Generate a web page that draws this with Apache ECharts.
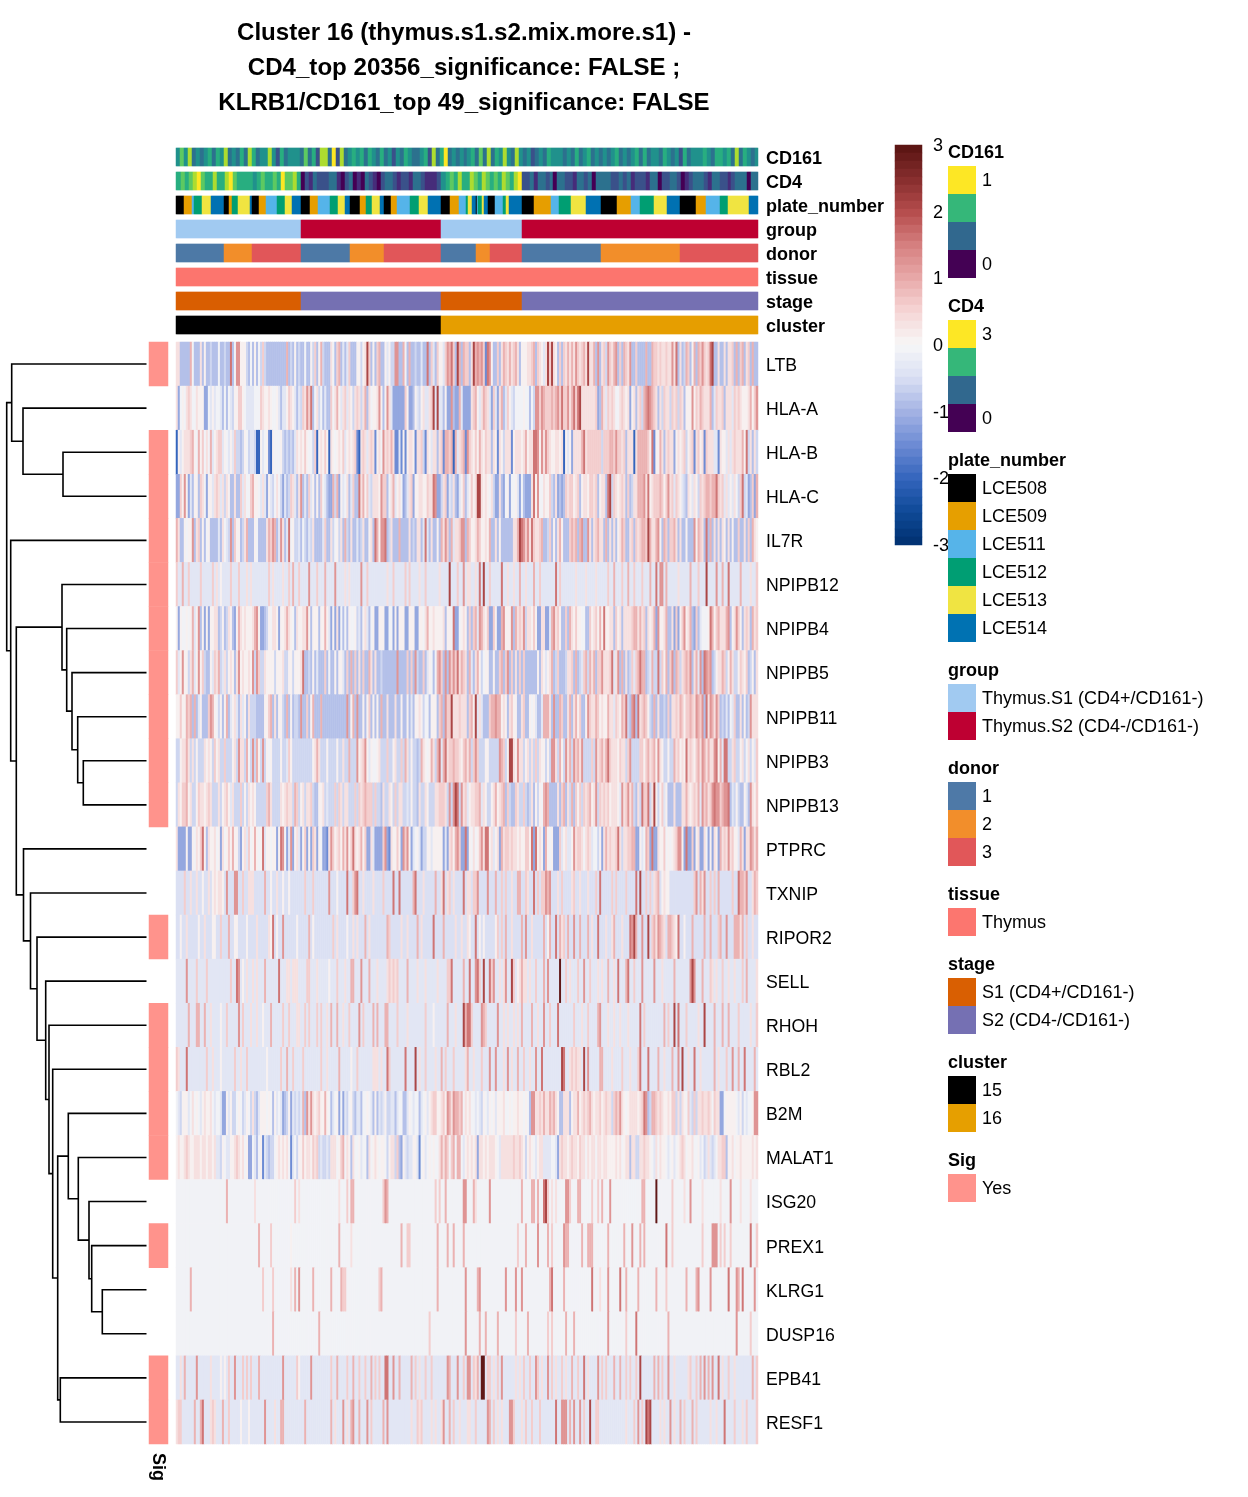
<!DOCTYPE html>
<html><head><meta charset="utf-8">
<style>html,body{margin:0;padding:0;background:#fff}#c{width:1248px;height:1497px}</style>
<script src="https://cdn.jsdelivr.net/npm/echarts@6/dist/echarts.min.js"></script>
</head><body><div id="c"></div>
<script>
// ---------- labels ----------
const titleLines = ['Cluster 16 (thymus.s1.s2.mix.more.s1) -','CD4_top 20356_significance: FALSE ;','KLRB1/CD161_top 49_significance: FALSE'];
const genes = ['LTB','HLA-A','HLA-B','HLA-C','IL7R','NPIPB12','NPIPB4','NPIPB5','NPIPB11','NPIPB3','NPIPB13','PTPRC','TXNIP','RIPOR2','SELL','RHOH','RBL2','B2M','MALAT1','ISG20','PREX1','KLRG1','DUSP16','EPB41','RESF1'];
const sigYes = ['LTB','HLA-B','HLA-C','IL7R','NPIPB12','NPIPB4','NPIPB5','NPIPB11','NPIPB3','NPIPB13','RIPOR2','RHOH','RBL2','B2M','MALAT1','PREX1','EPB41','RESF1'];
const colorbarTicks = [3,2,1,0,-1,-2,-3];

// ---------- expression, one character per column, level table below ----------
const levelChars  = '0123456789abcdef';
const levelValues = [-2.0,-1.5,-1.15,-0.85,-0.6,-0.35,-0.1,0.1,0.35,0.6,0.9,1.25,1.6,2.1,2.9,-0.47];
const rowLTB='8833333a63 3383733433 3633433c36 bb77743637 3649433333 33333a3437 3433633749 37a4333863 9a353593 33 7747 8d9373 9a33757 44b b33a63a334 3353 3c3953 97759bac93 da3a9 938dabab9 1 cb733938a9 8a89a83777 889a398758 d9d8739398 a8a8b989a8 d88a3b3894 b98ab393a9 8b3393333a 33a9989889 88b8c3834a 937a3a9b98 9cd3383383 8893a39a38 93a33';
const rowHLAA='8267689866 8777226575 6653636547 7997655556 6698778766 7535579875 3549 8b9c36 8463533968 a758958748 984 8a38677 8b737b8522 22229722 37 5478558 9d5 d553722b32 2a522 228 9a758a9 8529528a35 9754666676 6364bb9ba9 99a9ab9c99 b8ac9cd888 8888923a85 9898668987 8278389 4ab cba983849 8 84989 4 9837 77b798a988 8a35988938 8859898777 8a79b';
const rowHLAB='0757888 9a7 6a79686a57 8995765 7594 4347 64554 0 0756710766 6743434358 7879766490 7879708767 8795787 891 0898589817 86b898a811 5171788718 8941875883 8 91aa9a0a5 89a1b 98797a8798 8387187488 8178887 8a7 88ccb7b8b98 7788780757 2888 8ac899 9999949 99a a9b998938 8 808aaaaa97 c177a83898 8278789478 9189781988 8551877585 8988 8a7c48 3845a';
const rowHLAC='2297b72537 7398627758 9858487338 3395866 9a7 7658527546 8642534985 38b3539573 7396532 2a4 a275683593 3c8a795488 87b9936 8a5 7862358927 7887798 8cb 2248925483 2579 3 57978dd878 7684228326 7266752632 228c7b6687 7943823239 8997893788 7998937883 cd49878983 93488aaab8 c 78999a979b 8959875438 7587498 9aa 9aac9 8958 5758649c45 2392a';
const rowIL7R='a8337677b3 8937367333 353865 4b39 7734 8a3337 6333 38a9ba 35b835c674 4536435483 3335933846 7483a43833 534833 78 3c a7bbc34833 3a33338343 8835c53833 73a8b93a58 89bb3 a977 8a9778 7a33837333 3338 8adcb9 b8c9889a33 4937 38a733 39a9a3ab33 b83 89a8 83a 3838378a93 3893989aa9 da88ab7 3a9 399a838337 333b7a983c 3a38383873 8373 39 3383 93a87';
const rowNPIPB12='955a559555 5595555595 8575555955 5955585855 5555559585 5558559 5a5 5955 55b555 9555a5555b 5555858555 55b5595555 5555585595 5555959555 5855955555 585555d555 9 55b58 855 8 5c5d55 955555c558 558 55a5585 55a5 5955 55 5 5 5c5 9 55 55 555855 5585 5558 5555 5 9 55a555 955a5595 55 955 5a55c5b b5a5555585 5555a55595 55d5555b55 a55c55555a 5555 855955 a5559';
const rowNPIPB4='7276676 7a5 7b37272778 8347348732 7a87877 78a b72234 7688 7 2778a87638 7788b73777 3 77a752728 2 6363 7667 4 5378536722 7772266272 7772277722 7768a77877 7783776c22 6787 39 39a5b a87 9 229 7 2 2ab777b3 a898b48879 7228822 5ab 8973393a87 97766 33978 97a7c77883 9783888 89a a8a8938 78a 2b7 78a33 829 27 9b78a3 29 3566 67ca79 a888ab378b 97389 83a89 4b857';
const rowNPIPB5='957b774 8a5 7b7943 3759 8a458 47873 8b78778 7b4 b944877774 7778447747 778c334373 5333936337 3775393a39 3839 33a838 3343333333 b33339 39 3b 4339 3576 36 ab93b3 b9b9 c8a98 3a538a7467 733 733 9a39 b3 93 83 9 3 93 333337 3875 78a3 4933 34 889 3a345 9a 4a8a3 99b88 89c58 b3a38 34 959 acaa3 45a44 c497a 39b3a 94 89a 9b38a 5b3c b ab3 47 88a94 7a844 79879 34738';
const rowNPIPB11='7797 7a9a3a 3573 339 ba7 6473 7a3578 5385738444 3333779a38 3774 3a3734 43b339 37a3 33a3333333 3333 3b37a3 b33737 9373 7 3a338 3338 3373 3735 3778 7466 37 7739a3 b99d 88898 8839a 7d585 3339aabaa78 7389 773389 3376 75 3 35a aa83b33a93 38a38a7933 7b9 88a9787 7a8 859 87a9 c43bc3c89a 9743a38334 393 889 8a97 99a98 ba9b3 c8ba8b9343 5365933837 34b88';
const rowNPIPB3='4478 8a84 84 7444 87874 9 784 49444 78 4b884a64b4 a74b476744 4474 45 9744 4444444478 a844474444 7448 44a444 b789b75766 7844 494478 4494 a84744 34a876 7a84 ac5ac89 9a9 987 9a 8a49b9 44 47 7444 44ba94 7dd87b884 7 8484 94877 4 74bb84a74b 8a4b9a8b44 4494b89a8a c988879884 9b44 4499 79 a89a7b8744 744a897 87c 898 79a8ba8 a88bc7a5cc 4489447846 84759';
const rowNPIPB13='48799a7844 7988789844 4847897584 4494748787 4444 49a844 448789884a 9478488943 3778454449 4984884449 4989a99949 4438448749 4884454744 3844874448 8999 84b4bd c4b89 5788 99a587 4478 a789a3 9433 9 84494 3483 7476ab a33338 39a3 84a39 7949 89 a78b4 98989 78 8875 b89b8a 438 4c99c48 d747 9 57333 8 3338 8a878 98a5 b9a 89b cbb9 abbc35 4743375 3b8 79838';
const rowPTPRC='8222272276 879c738778 6728679 7a7 7427859 67a 767c577677 27cb625b27 8527927298 2762218b97 897a8b79c8 78a7922852 2229b21877 972b9b7256 7524477577 7772528 97a b922c 2768679b8c c785782a89 9898878779 97c2c7872a 7672229578 557b899868 98566472 8a 8988 9c8488 99aa227 56a 92c2287796 76789bb72c 2292782286 2728 72a898 b8977 5a828 8ba8a';
const rowTXNIP='ffff9ff8ff 8ff7ff8f78 788 7fbfffb bff9ff888f ffffaff7ff 8ff7ff7fff ffff9fff9f ffffffbfff 7ffffcff9b cff8ffff8f fff9ffffcf fcffffffac fff8fffffa ff8cf89f8f fffcf 88f99bffff bfffaff9f9 ff8ffaaff9 8ffcf9f99b abfff8f9ff ff89ff8fff 8fff9fcfff ff9f9ffff9 ffffcfdff9 f9f89af787 7fffffffff fff9bfa8bf f9f9fafff f ff9ffcaa9b f f8a9f';
const rowRIPOR2='ff7ff8ffff f7ff8fff77 ff9fffaff7 7ffff7ffff 8ffff f87cf 7ffbffffff 7fffffaf7f ffffffff9f 8ffff7ff8f 8fffaf8fff fffffa9fff ff8ff8ffff af8fffffcf fffafffff8 ff8ff 87ffcf7f7f ffff79f9fa ff8ffffafb ff8fffffaf 7affcfa89f affbffafff af8ffcfff8 ff8afff8ff fcbdaffbff d f9a8ba98f aa987cff7f ffafffffaf f af f f9affbf ffaaa8af9f f8ffc';
const rowSELL='55555b5555 9555595555 5555555955 cb57585585 8555a55555 5c55588588 8555599555 8555557555 9555855aa5 55b555a555 8555589898 95555a5555 8555855555 85555 99c55 555a5 5c55bc95d5 5c9b558 58b 55d9578a88 5855955 5a5 b55555e559 5855595 5b5 5955585855 a558 5c555a c559555b55 555b555855 555a555555 5bdb555a55 5985855955 8558555 95a 55558';
const rowRHOH='555555a555 aa55a55855 5575595555 5b59555855 8557555a55 5559559555 8855959555 9595585a55 a558559555 5b595555a5 a555aa5555 9555585555 5555955575 55555a5558 555da cc95555ba9 55555b5585 8558585a55 55a55855b5 59555c5555 5559555855 95555ab555 8558558555 855555c595 55555555a5 955d5c5559 55555855d5 555a555a55 a555595555 58559';
const rowRBL2='98555c5555 5555595585 5575555559 5585595555 5555575555 5595 5a5595 5559555555 5595585555 5a55555755 9555555588 8585 5c9555 5555c5555d 5855955558 55a5955595 55558 a558555955 5b55b55585 b5855a5595 5855b55c55 5555555dc5 58989885d5 b55555aa55 5585555955 5855 59c555 c5555a5585 55a55b5d55 855c558555 555a585559 55b55a55c5 555a5';
const rowB2M='6547775686 7657877865 6652275744 6764576484 3577767637 5652347254 545a3b8b87 8977a76356 7262546743 5536676537 3545744553 5663357656 6356757899 77897ba8ba a9a68 7866565476 5767577786 6767787767 63bb889 8a8 8a9a87 3388 8378 8a7898 9a87889 789 8849a9b87 6788887 89c b34aa98987 7879948487 6954948898 8986988226 7777765746 56 67b';
const rowMALAT1='7877898778 8878878878 5547655778 9878672265 3671543446 7878786156 4779788798 9454454888 679a687386 6756638678 7677647884 9327545577 5167567676 68a8a969a6 aa657 8787828878 7888765888 8889889874 7876578855 5566528988 7898879886 8788688788 7777878678 8388448898 8765868776 5675678986 7786675645 8545688993 7786778777 77878';
const rowISG20='6666666666 6666666666 66666a6666 6666666668 6666666666 6666666669 6866666666 6666666666 6866696aa6 6666666666 6669ba6666 6666666666 6666666669 6966a66666 666bb 666a866666 6b66666666 6666666a66 66aa6a66cd 968686666b b9666aa666 6696696a66 6b66666666 6666666aa6 6666e66666 6696666686 6b66666866 6666668666 6b66668666 68666';
const rowPREX1='6666666666 6666666666 6666666666 6666666666 6a66666966 6666666766 6666666666 6666666666 6a66666866 6666666666 6666666666 66a6699666 6666666666 a6666a66a6 666a6 6666666666 6666666666 666669666a 66666b6666 a6966666ba a666666a66 aaa6666666 a6666666a6 66b666a6a6 666666666c 6696666666 6666666966 66bbb69696 6966666666 6c669';
const rowKLRG1='6666666a66 6666666666 6666666666 6666666666 6669666696 666666686a 6b666666a6 6666666a66 66a9966666 6666666666 69a6666666 6666666666 6666666666 a666666666 6666b 66666ab666 666666666b 6666b66b66 6666666666 6ac66666a6 6666666666 66c6668666 b66666c66a 66666a6666 6666a66669 666666666a 6666ab6666 6b66666666 c666ba6c66 666b6';
const rowDUSP16='6666666666 6666666666 6666666666 6666666666 66666666a6 6666666666 6666666666 6a66666666 6666666666 6666666666 6666666666 6666666666 6666669666 6666666666 6666b 666666a66a 66666a6666 6666966666 a666666666 969666666a 666a666666 6666666666 b666666669 6666c66666 6666666666 a666666666 6666666666 6666666666 6666b66666 69666';
const rowEPB41='5585a55555 b555555855 557575955b 5559595955 5a55555555 555b555555 9755555b55 5555555955 a5555955a5 5955955a59 5955cc55b5 5a55555a59 5855955955 55555ba555 b5595 bb598a5ee5 9958595b55 5555858595 5955b95855 b595855958 55a55955c5 85555b5959 555a55a559 59559 5d555 555a5a5955 b558555555 895595a5b5 a5b55c5855 9558555555 55a59';
const rowRESF1='8995555 55a 55ac555898 555a559555 5575557555 5555b55558 55aa555555 5555a55555 5555555a58 555b585ab5 5a555b5955 555a5b5555 5555555855 9895555858 558b55a595 58555 8855955555 ba59585855 5bb9555859 5595559555 5555c55bbb 5a5b55b595 5d55995555 5555555558 55595b595d cd55558585 5b5855a595 55a5955555 5855855 5c5 5559555859 55559';

// ---------- annotation tracks ----------
const viridisLevels = ['#440154','#472d7b','#3b528b','#2c728e','#21918c','#28ae80','#5ec962','#addc30','#fde725'];
const cd161Levels = '4647343453 5473435375 3447425344 4363527738 2734545354 3534243543 3452735834 3434536373 5474374342 3435444343 5345343434 5343453534 4354342534 4454355453 735434';
const cd4SegS1a = '5656786557 5578655554 5655658667 5';
const cd4SegS2a = '021322233 1023010321 0233212213 321112';
const cd4SegS1b = '45 6575576576 5657657 8';
const cd4SegS2b = '22 3133230332 2133230333 3223231222 1330223320 1233321332 2123330 3 3';
const plateRuns = [['LCE508',8],['LCE509',8],['LCE511',2],['LCE512',8],['LCE513',9],['LCE514',13],['LCE508',5],['LCE509',3],['LCE512',6],['LCE513',12],['LCE514',2],['LCE508',7],['LCE509',7],['LCE511',11],['LCE512',8],['LCE513',7],['LCE514',9],
 ['LCE508',9],['LCE509',8],['LCE511',12],['LCE512',8],['LCE513',7],['LCE514',5],['LCE508',10],['LCE509',6],['LCE512',6],['LCE513',8],['LCE514',4],['LCE508',7],['LCE509',6],['LCE511',13],['LCE512',9],['LCE513',9],['LCE514',13],
 ['LCE508',9],['LCE509',9],['LCE511',7],['LCE512',2],['LCE513',4],['LCE514',4],['LCE508',1],['LCE511',1],['LCE512',4],['LCE513',2],['LCE514',4],['LCE508',7],['LCE511',8],['LCE512',3],['LCE513',3],['LCE514',13],
 ['LCE508',12],['LCE509',17],['LCE511',8],['LCE512',12],['LCE513',15],['LCE514',15],['LCE508',16],['LCE509',14],['LCE511',9],['LCE512',14],['LCE513',13],['LCE514',13],['LCE508',16],['LCE509',10],['LCE511',14],['LCE512',8],['LCE513',21],['LCE514',9]];
const groupRuns  = [['Thymus.S1 (CD4+/CD161-)',125],['Thymus.S2 (CD4-/CD161-)',140],['Thymus.S1 (CD4+/CD161-)',81],['Thymus.S2 (CD4-/CD161-)',236]];
const donorRuns  = [['1',48],['2',28],['3',49],['1',49],['2',34],['3',57],['1',35],['2',14],['3',32],['1',79],['2',79],['3',78]];
const tissueRuns = [['Thymus',582]];
const stageRuns  = [['S1 (CD4+/CD161-)',125],['S2 (CD4-/CD161-)',140],['S1 (CD4+/CD161-)',81],['S2 (CD4-/CD161-)',236]];
const clusterRuns= [['15',265],['16',317]];

// ---------- dendrogram merges (ids >= 25 are earlier merges) ----------
const mergeLeft   = [2,1,0,9,8,7,6,5,21,20,19,18,17,23,37,16,15,14,13,12,11,32,4,27];
const mergeRight  = [3,25,26,10,28,29,30,31,22,33,34,35,36,24,38,39,40,41,42,43,44,45,46,47];
const mergeHeight = [83.5,123.5,134.8,63.2,68.8,74.5,79.8,84.5,44.2,54.8,57.5,68.2,78.2,86.2,88.8,93.8,97.5,100.8,109.5,116,123,130.2,135.8,139.8];

// ---------- legend panels ----------
const legendCD161 = {title:'CD161', colors:['#FDE725','#35B779','#31688E','#440154'], labels:['1','','','0']};
const legendCD4   = {title:'CD4', colors:['#FDE725','#35B779','#31688E','#440154'], labels:['3','','','0']};
const plateColors = {LCE508:'#000000',LCE509:'#E69F00',LCE511:'#56B4E9',LCE512:'#009E73',LCE513:'#F0E442',LCE514:'#0072B2'};
const groupColors = {'Thymus.S1 (CD4+/CD161-)':'#A1CAF1','Thymus.S2 (CD4-/CD161-)':'#BE0032'};
const donorColors = {'1':'#4E79A7','2':'#F28E2B','3':'#E15759'};
const tissueColors= {'Thymus':'#FC766F'};
const stageColors = {'S1 (CD4+/CD161-)':'#D95F02','S2 (CD4-/CD161-)':'#7570B3'};
const clusterColors={'15':'#000000','16':'#E69F00'};
const sigColors   = {'Yes':'#FF938C'};
const heatStops = ['#00306f','#0f4a98','#3565bd','#6d8bd4','#a4b3e4','#d9dff3','#f7f7f7','#f6d6d6','#e8a9a9','#d57f7f','#b54c4c','#852d2d','#571311'];

const FONT = '"Liberation Sans", Arial, sans-serif';
const exprRows = [rowLTB,rowHLAA,rowHLAB,rowHLAC,rowIL7R,rowNPIPB12,rowNPIPB4,rowNPIPB5,rowNPIPB11,rowNPIPB3,rowNPIPB13,rowPTPRC,rowTXNIP,rowRIPOR2,rowSELL,rowRHOH,rowRBL2,rowB2M,rowMALAT1,rowISG20,rowPREX1,rowKLRG1,rowDUSP16,rowEPB41,rowRESF1].map(s=>s.replace(/\s/g,''));
const COLS = 290;
const mainData = [];
exprRows.forEach((s,r)=>{ for(let c=0;c<COLS;c++){ const ch = c<s.length? s[c] : s[s.length-1]; mainData.push([c,r,levelValues[levelChars.indexOf(ch)]]); } });

const grids=[],xAxes=[],yAxes=[],series=[];
function addHeat(box,xCount,yNames,data){
  const i=grids.length;
  grids.push(Object.assign({containLabel:false},box));
  xAxes.push({gridIndex:i,type:'category',data:Array.from({length:xCount},(_,k)=>k),show:false});
  yAxes.push({gridIndex:i,type:'category',data:yNames,inverse:true,show:false});
  series.push({type:'heatmap',xAxisIndex:i,yAxisIndex:i,data:data,animation:false,silent:true,progressive:0,itemStyle:{borderWidth:0}});
  return series.length-1;
}
const trackTop=148, trackPitch=24, trackH=18, plotLeft=176, plotW=582, mainTop=342, mainH=1102;
function colorCells(arr){return arr.map((col,i)=>({value:[i,0,1],itemStyle:{color:col}}));}
function stretch(str,width){const s=str.replace(/\s/g,'');const a=[];for(let i=0;i<width;i++)a.push(viridisLevels[+s[Math.floor(i*s.length/width)]]);return a;}
function runCells(runs,map){const a=[];runs.forEach(([k,n])=>{for(let i=0;i<n;i++)a.push(map[k]);});return colorCells(a);}
const cd4Cells=colorCells([].concat(stretch(cd4SegS1a,125),stretch(cd4SegS2a,140),stretch(cd4SegS1b,81),stretch(cd4SegS2b,236)));
const tracks=[['CD161',colorCells(stretch(cd161Levels,582))],['CD4',cd4Cells],['plate_number',runCells(plateRuns,plateColors)],['group',runCells(groupRuns,groupColors)],['donor',runCells(donorRuns,donorColors)],['tissue',runCells(tissueRuns,tissueColors)],['stage',runCells(stageRuns,stageColors)],['cluster',runCells(clusterRuns,clusterColors)]];
tracks.forEach(([name,cells],t)=>{
  addHeat({left:plotLeft,top:trackTop+t*trackPitch,width:plotW,height:trackH},cells.length,[name],cells);
});
const mainIdx=addHeat({left:plotLeft,top:mainTop,width:plotW,height:mainH},COLS,genes,mainData);
// Sig column
const sigCells=genes.map((g,i)=>sigYes.includes(g)?{value:[0,i,1],itemStyle:{color:sigColors.Yes}}:null).filter(Boolean);
addHeat({left:149,top:mainTop,width:19,height:mainH},1,genes,sigCells);
// colour bar, drawn as a stepped one-column heatmap spanning the scale
const BAR_STEPS=50;
const barNames=Array.from({length:BAR_STEPS},(_,i)=>String(i));
const barCells=barNames.map((n,i)=>[0,i,3-(i+0.5)*6/BAR_STEPS]);
const barIdx=addHeat({left:895,top:145,width:27,height:400},1,barNames,barCells);

// Dendrogram through its own value axes
const dIdx=grids.length;
grids.push({left:0,top:mainTop,width:146.5,height:mainH});
xAxes.push({gridIndex:dIdx,type:'value',min:0,max:146.5,inverse:true,show:false});
yAxes.push({gridIndex:dIdx,type:'value',min:0,max:25,inverse:true,show:false});
const nodeH={},nodeY={};
genes.forEach((g,i)=>{nodeH[i]=0;nodeY[i]=i+0.5;});
const dendPts=[];
mergeLeft.forEach((l,m)=>{
  const r=mergeRight[m],h=mergeHeight[m],id=25+m;
  dendPts.push([nodeH[l],nodeY[l]],[h,nodeY[l]],[h,nodeY[r]],[nodeH[r],nodeY[r]],['-','-']);
  nodeH[id]=h;nodeY[id]=(nodeY[l]+nodeY[r])/2;
});
series.push({type:'line',xAxisIndex:dIdx,yAxisIndex:dIdx,data:dendPts,symbol:'none',clip:false,animation:false,silent:true,connectNulls:false,
  lineStyle:{color:'#000',width:1.6,join:'miter',cap:'butt'}});

// ---------- text and legend graphics ----------
const g=[];
function txt(x,y,s,o){g.push({type:'text',silent:true,x:x,y:y+1,z:(o&&o.z)||10,rotation:(o&&o.rot)||0,style:{text:s,fill:'#000',font:((o&&o.bold)?'bold ':'')+((o&&o.size)||18)+'px '+FONT,textAlign:(o&&o.align)||'left',textVerticalAlign:(o&&o.va)||'middle'}});}
titleLines.forEach((s,i)=>txt(464,32+i*35,s,{bold:true,size:24.1,align:'center'}));
txt(158,1452,'Sig',{bold:true,rot:-Math.PI/2});
tracks.forEach(([name],t)=>txt(766,trackTop+t*trackPitch+trackH/2+1,name,{bold:true}));
genes.forEach((name,i)=>txt(766,mainTop+(i+0.5)*mainH/genes.length+1,name,{size:17.7}));
colorbarTicks.forEach(v=>{const y=145+(3-v)/6*400; txt(933,y,String(v),{z:5});});
const legendX=948,swatch=28;
function toPanel(title,map){return {title,colors:Object.values(map),labels:Object.keys(map)};}
const panels=[legendCD161,legendCD4,toPanel('plate_number',plateColors),toPanel('group',groupColors),toPanel('donor',donorColors),toPanel('tissue',tissueColors),toPanel('stage',stageColors),toPanel('cluster',clusterColors),toPanel('Sig',sigColors)];
let ly=152;
panels.forEach(p=>{
  txt(legendX,ly,p.title,{bold:true});
  p.colors.forEach((c,i)=>{
    const top=ly+14+i*swatch;
    g.push({type:'rect',silent:true,z:8,shape:{x:legendX,y:top,width:swatch,height:swatch},style:{fill:c}});
    if(p.labels[i]) txt(982,top+swatch/2,p.labels[i]);
  });
  ly+=14+p.colors.length*swatch+28;
});

const chart=echarts.init(document.getElementById('c'),null,{renderer:'canvas',width:1248,height:1497});
chart.setOption({
  backgroundColor:'#fff',animation:false,grid:grids,xAxis:xAxes,yAxis:yAxes,series:series,graphic:{elements:g},
  visualMap:{type:'continuous',show:false,seriesIndex:[mainIdx,barIdx],min:-3,max:3,inRange:{color:heatStops}}
});
</script></body></html>
